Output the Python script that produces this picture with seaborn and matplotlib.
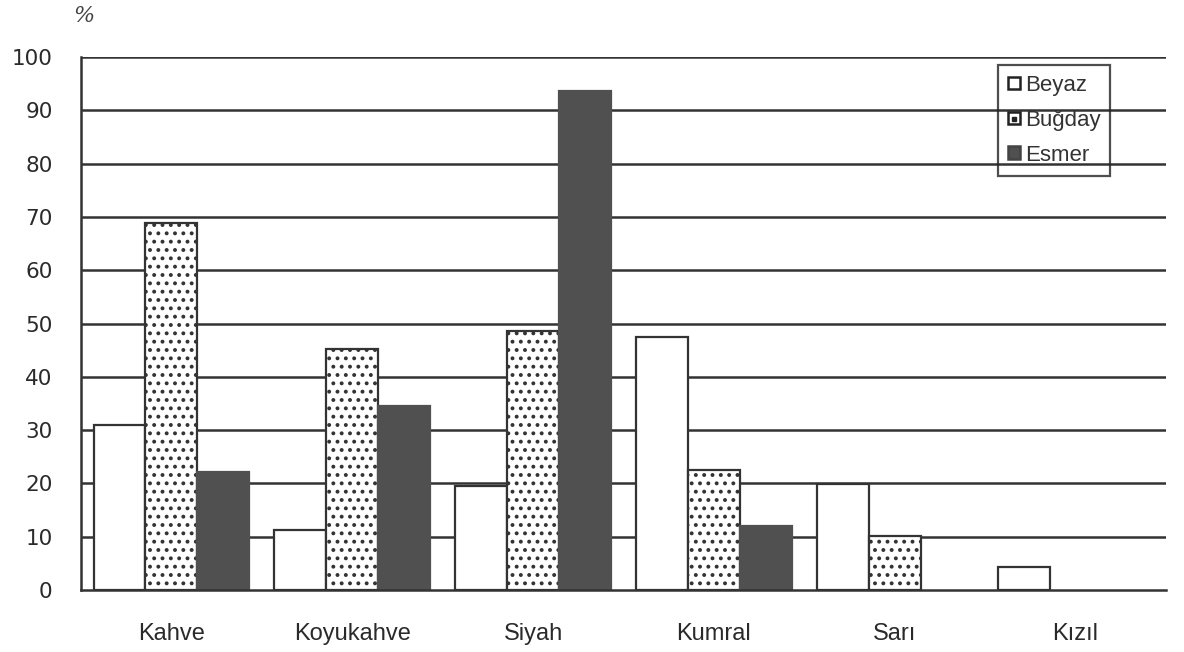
import matplotlib
matplotlib.use("Agg")
import matplotlib.pyplot as plt
from matplotlib.patches import Patch
from matplotlib.lines import Line2D
from matplotlib.legend_handler import HandlerTuple
import seaborn as sns
import pandas as pd

categories = ["Kahve", "Koyukahve", "Siyah", "Kumral", "Sarı", "Kızıl"]
groups = ["Beyaz", "Buğday", "Esmer"]
beyaz = [31.0, 11.3, 19.5, 47.5, 19.8, 4.3]
bugday = [68.9, 45.3, 48.5, 22.6, 10.1, 0.0]
esmer = [22.2, 34.5, 93.6, 12.0, 0.0, 0.0]
y_ticks = [0, 10, 20, 30, 40, 50, 60, 70, 80, 90, 100]

df = pd.DataFrame({
    "renk": categories * 3,
    "ten": [g for g in groups for _ in categories],
    "yuzde": beyaz + bugday + esmer,
})

sns.set_theme(style="white")
plt.rcParams["font.family"] = ["Liberation Sans", "DejaVu Sans"]
plt.rcParams["hatch.linewidth"] = 1.6
plt.rcParams["hatch.color"] = "#222222"

fills = {"Beyaz": "white", "Buğday": "white", "Esmer": "#505050"}
hatches = {"Beyaz": "", "Buğday": "..", "Esmer": ""}
ink = "#333333"
text_col = "#2a2a2a"

fig = plt.figure(figsize=(11.84, 6.52), dpi=100)
ax = fig.add_axes([81 / 1184, 1 - 590 / 652, (1166 - 81) / 1184, (590 - 57) / 652])

# horizontal reference lines behind the bars
for v in y_ticks[1:]:
    ax.axhline(v, color=ink, lw=1.8, zorder=0)

sns.barplot(data=df, x="renk", y="yuzde", hue="ten", order=categories,
            hue_order=groups, palette=fills, width=0.86, saturation=1,
            edgecolor=ink, linewidth=1.6, legend=False, ax=ax, zorder=2)

for container, g in zip(ax.containers, groups):
    for bar in container:
        bar.set_hatch(hatches[g])
        if g == "Esmer":
            bar.set_edgecolor(fills["Esmer"])
        # empty cells leave no outline on the baseline
        if bar.get_height() == 0:
            bar.set_visible(False)

ax.set_xlim(-0.5, len(categories) - 0.5)
ax.set_ylim(0, 100)
ax.set_yticks(y_ticks)
ax.set_yticklabels([str(v) for v in y_ticks], fontsize=15.5, color=text_col,
                   family="DejaVu Sans")
ax.tick_params(axis="y", direction="out", length=6.5, width=1.8, color=ink, pad=14)

# group separators on the category axis
ax.set_xticks([i + 0.5 for i in range(-1, len(categories))], minor=False)
ax.set_xticklabels([])
ax.tick_params(axis="x", direction="inout", length=13, width=1.8, color=ink)
ax.set_xticks(range(len(categories)), minor=True)
ax.set_xticklabels(categories, minor=True, fontsize=17, color=text_col)
ax.tick_params(axis="x", which="minor", length=0, pad=24)

ax.set_xlabel("")
ax.set_ylabel("")
for side in ("top", "right"):
    ax.spines[side].set_visible(False)
for side in ("left", "bottom"):
    ax.spines[side].set_color(ink)
    ax.spines[side].set_linewidth(1.8)

fig.text(73 / 1184, 1 - 16 / 652, "%", fontsize=16, style="italic",
         family="DejaVu Serif", color="#444444", va="center")

# legend keys: plain square, square with a centre dot, filled square
box = dict(linewidth=1.8, edgecolor="#222222")
handles = [
    Patch(facecolor="white", **box),
    (Patch(facecolor="white", **box),
     Line2D([], [], marker="s", markersize=2.4, color="#222222", linestyle="none")),
    Patch(facecolor=fills["Esmer"], linewidth=1.8, edgecolor="#444444"),
]
leg = ax.legend(handles=handles, labels=groups, loc="upper left",
                handler_map={tuple: HandlerTuple(ndivide=1, pad=0)},
                bbox_to_anchor=((998 - 81) / (1166 - 81), (590 - 65) / (590 - 57)),
                frameon=True, fancybox=False, fontsize=16, handlelength=0.55,
                handleheight=0.5, handletextpad=0.2, borderpad=0.45,
                labelspacing=0.62, borderaxespad=0)
leg.get_frame().set_facecolor("none")
leg.get_frame().set_edgecolor("#222222")
leg.get_frame().set_linewidth(1.6)
for t in leg.get_texts():
    t.set_color("#333333")

fig.savefig("out.png", dpi=100)
